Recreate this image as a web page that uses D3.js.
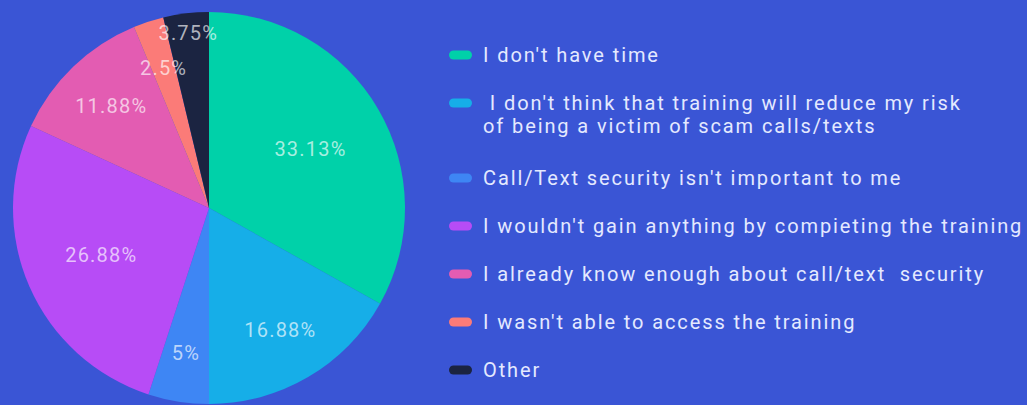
<!DOCTYPE html>
<html>
<head>
<meta charset="utf-8">
<script src="https://cdn.jsdelivr.net/npm/d3@7"></script>
<style>
  html, body { margin: 0; padding: 0; background: #3a55d5; }
  svg { display: block; }
  text { font-family: Roboto, "Noto Sans", sans-serif; }
</style>
</head>
<body>
<svg id="chart" width="1027" height="405"></svg>
<script>
// Reasons for not completing the call/text security training
const categories = [
  "I don't have time",
  " I don't think that training will reduce my risk\nof being a victim of scam calls/texts",
  "Call/Text security isn't important to me",
  "I wouldn't gain anything by compieting the training",
  "I already know enough about call/text  security",
  "I wasn't able to access the training",
  "Other"
];
const shares = [33.13, 16.88, 5, 26.88, 11.88, 2.5, 3.75];
const sliceLabels = ["33.13%", "16.88%", "5%", "26.88%", "11.88%", "2.5%", "3.75%"];
const palette = ["#00d1a9", "#16aee8", "#3e86f4", "#b74cf6", "#e35cb2", "#fb7b78", "#1b2441"];

const data = categories.map((c, i) => ({ name: c, value: shares[i], label: sliceLabels[i], color: palette[i] }));

const svg = d3.select("#chart");
const cx = 209, cy = 208, radius = 196;

const pie = d3.pie().value(d => d.value).sort(null);
const arcs = pie(data);
const arc = d3.arc().innerRadius(0).outerRadius(radius);

const g = svg.append("g").attr("transform", `translate(${cx},${cy})`);

g.selectAll("path.slice")
  .data(arcs)
  .join("path")
  .attr("class", "slice")
  .attr("d", arc)
  .attr("fill", d => d.data.color);

// Label radius: larger slices keep labels closer to the middle,
// thin neighbouring slices get pushed outward so labels don't collide.
function labelRadius(d, i) {
  const v = d.data.value;
  let k = v >= 20 ? 0.6 : v >= 10 ? 0.72 : 0.75;
  if (i > 0 && v < 5 && arcs[i - 1].data.value < 5) k = 0.9;
  return radius * k;
}

g.selectAll("text.value")
  .data(arcs)
  .join("text")
  .attr("class", "value")
  .attr("transform", (d, i) => {
    const r = labelRadius(d, i);
    const c = d3.arc().innerRadius(r).outerRadius(r).centroid(d);
    return `translate(${c[0]},${c[1]})`;
  })
  .attr("text-anchor", "middle")
  .attr("dy", "0.35em")
  .attr("fill", "#ffffff")
  .attr("fill-opacity", 0.66)
  .style("font-size", "20px")
  .style("letter-spacing", "1.2px")
  .text(d => d.data.label);

// Legend
const legend = svg.append("g").attr("transform", "translate(449,0)");
const rowGap = 48, lineGap = 23;
let y = 55;
data.forEach((d, i) => {
  const lines = d.name.split("\n");
  const row = legend.append("g").attr("transform", `translate(0,${y})`);
  row.append("rect")
    .attr("x", 0).attr("y", -4.5)
    .attr("width", 23).attr("height", 9)
    .attr("rx", 4.5)
    .attr("fill", d.color);
  const t = row.append("text")
    .attr("x", 34)
    .attr("fill", "#e4e9ff")
    .style("font-size", "20px")
    .style("letter-spacing", "1.9px")
    .style("white-space", "pre");
  lines.forEach((ln, j) => {
    t.append("tspan")
      .attr("x", 34)
      .attr("y", j * lineGap)
      .attr("dy", "0.35em")
      .text(ln);
  });
  y += rowGap + (lines.length - 1) * (lineGap + 4);
});
</script>
</body>
</html>
